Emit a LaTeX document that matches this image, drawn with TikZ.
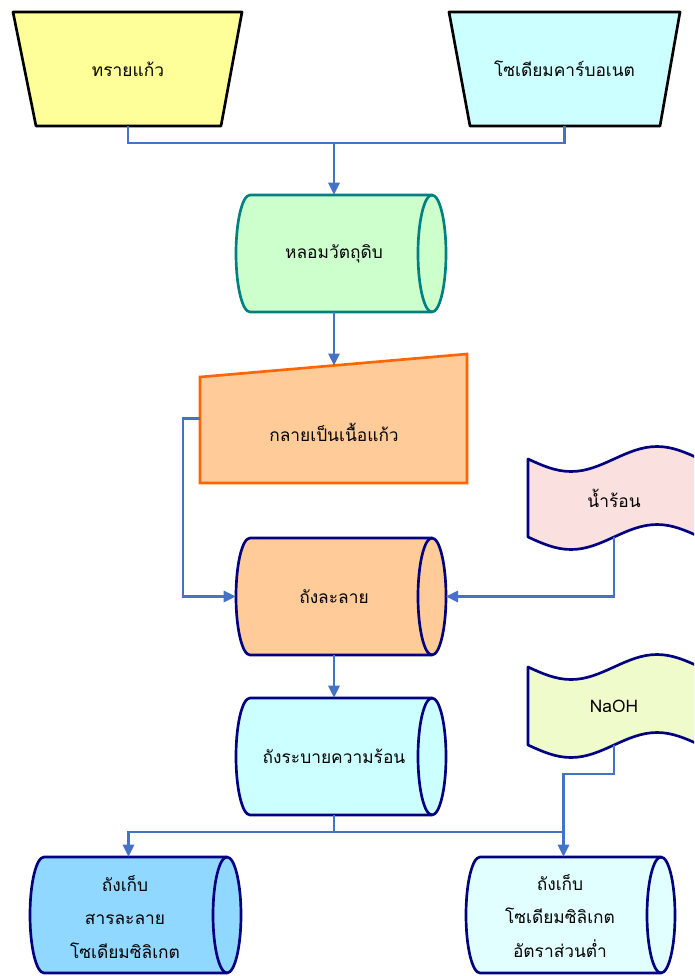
\documentclass[tikz,border=0pt]{standalone}
\usepackage{fontspec}
\newfontfamily\thai[Script=Thai]{Loma}
\usetikzlibrary{arrows.meta,calc}
\definecolor{conn}{HTML}{4472C4}
\definecolor{navyb}{HTML}{000080}
\definecolor{tealb}{HTML}{008080}
\definecolor{orangeb}{HTML}{FF6600}
\definecolor{fyellow}{HTML}{FFFF99}
\definecolor{fcyan}{HTML}{CCFFFF}
\definecolor{fgreen}{HTML}{CCFFCC}
\definecolor{forange}{HTML}{FFCC99}
\definecolor{fpink}{HTML}{FAE0DF}
\definecolor{flime}{HTML}{F0FBCC}
\definecolor{fblue}{HTML}{90D8FF}
\definecolor{fpale}{HTML}{E2FFFF}
\newcommand\cylshape[6]{%
  \pgfmathsetmacro\cylH{(#4-#3)/2}%
  \pgfmathsetmacro\cylA{#1+14}%
  \draw[shapeline, draw=#6, fill=#5] (\cylA,#3) -- (#2,#3)
     arc[start angle=-90,end angle=90,x radius=14,y radius=\cylH]
     -- (\cylA,#4) arc[start angle=90,end angle=270,x radius=14,y radius=\cylH] -- cycle;
  \draw[shapeline, draw=#6] (#2,#3) arc[start angle=-90,end angle=-270,x radius=14,y radius=\cylH];
}
\newcommand\waveshape[4]{% #1 left x, #2 top y, #3 bottom y, #4 fill
  \draw[shapeline, draw=navyb, fill=#4] (#1,#2)
    sin ($(#1,#2)+(43,12.5)$) cos ($(#1,#2)+(86,0)$) sin ($(#1,#2)+(129,-12.5)$) cos ($(#1,#2)+(172,0)$)
    -- ($(#1,#3)+(172,0)$)
    sin ($(#1,#3)+(129,-12.5)$) cos ($(#1,#3)+(86,0)$) sin ($(#1,#3)+(43,12.5)$) cos (#1,#3) -- cycle;
}
\tikzset{
  shapeline/.style={line width=2pt, line join=round},
  conline/.style={draw=conn, line width=1.6pt},
  arr/.style={conline, -{Triangle[length=9pt,width=8.5pt]}},
  lbl/.style={font=\thai\fontsize{13}{16}\selectfont, text=black, inner sep=0pt, align=center},
}
\begin{document}
\begin{tikzpicture}[x=0.75pt,y=-0.75pt]
\clip (0,0) rectangle (694,976);
\fill[white] (0,0) rectangle (694,976);

% ---- shapes ----
\draw[shapeline, draw=black, fill=fyellow] (13,12) -- (242,12) -- (221,126) -- (36,126) -- cycle;
\draw[shapeline, draw=black, fill=fcyan] (449,12) -- (680,12) -- (660,126) -- (470,126) -- cycle;
\cylshape{236}{432}{195}{312}{fgreen}{tealb}
\draw[line width=2pt, draw=orangeb, fill=forange] (200,377) -- (467,354) -- (467,483) -- (200,483) -- cycle;
\cylshape{236}{432}{538}{655}{forange}{navyb}
\waveshape{528}{459}{537}{fpink}
\cylshape{236}{432}{698}{815}{fcyan}{navyb}
\waveshape{528}{667}{745}{flime}
\cylshape{30}{227}{857}{973}{fblue}{navyb}
\cylshape{466}{661}{857}{973}{fpale}{navyb}

% ---- nodes ----
\node[lbl, minimum width=171.75pt, minimum height=85.5pt] (t1) at (128,69) {ทรายแก้ว};
\node[lbl, minimum width=173.25pt, minimum height=85.5pt] (t2) at (564.5,69) {โซเดียมคาร์บอเนต};
\node[lbl, minimum width=147pt, minimum height=87.75pt] (n3) at (334,253.5) {หลอมวัตถุดิบ};
\node[minimum width=200.25pt, minimum height=96.75pt, inner sep=0pt] (mi) at (333.5,418.5) {};
\node[lbl] (mit) at (334,432) {กลายเป็นเนื้อแก้ว};
\node[lbl, minimum width=147pt, minimum height=87.75pt] (n6) at (334,596.5) {ถังละลาย};
\node[lbl, minimum width=129pt, minimum height=58.5pt] (w1) at (614,498) {น้ำร้อน};
\node[lbl, minimum width=147pt, minimum height=87.75pt] (n7) at (334,756.5) {ถังระบายความร้อน};
\node[lbl, minimum width=129pt, minimum height=58.5pt] (w2) at (614,706) {NaOH};
\node[lbl, minimum width=147.75pt, minimum height=87pt] (b1) at (128.5,915) {};
\node[lbl, minimum width=146.25pt, minimum height=87pt] (b2) at (563.5,915) {};
\node[lbl] (b1t) at (125,917) {ถังเก็บ\\[9pt]สารละลาย\\[9pt]โซเดียมซิลิเกต};
\node[lbl] (b2t) at (560,916) {ถังเก็บ\\[9pt]โซเดียมซิลิเกต\\[9pt]อัตราส่วนต่ำ};

% ---- coordinates ----
\coordinate (j1) at (334,143);
\coordinate (mtop) at (333.5,365.5);
\coordinate (k1) at (183,418.5);
\coordinate (n6e) at (446,596.5);
\coordinate (j2) at (334,832);
\coordinate (j3) at (563.5,774);

% ---- connectors ----
\draw[conline] (t1.south) |- (j1);
\draw[conline] (t2.south) |- (j1);
\draw[arr] (j1) -- (n3.north);
\draw[arr] (n3.south) -- (n3.south |- mtop);
\draw[arr] (mi.west) -- (k1) |- (n6.west);
\draw[arr] (w1.south) |- (n6e);
\draw[arr] (n6.south) -- (n7.north);
\draw[conline] (n7.south) -- (j2);
\draw[arr] (j2) -| (b1.north);
\draw[arr] (j2) -| (b2.north);
\draw[conline] (w2.south) |- (j3) -- (j3 |- j2);
\end{tikzpicture}
\end{document}
